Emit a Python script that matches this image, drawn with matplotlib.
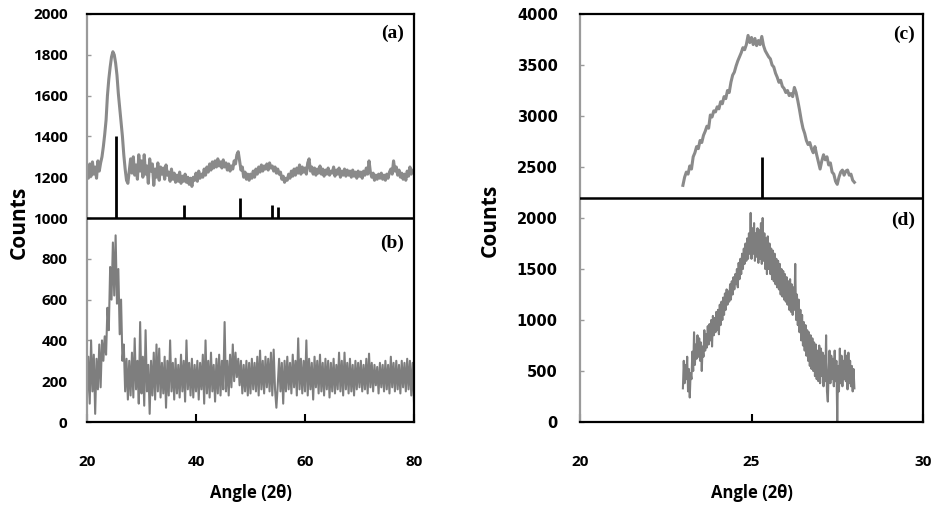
import numpy as np
import matplotlib
matplotlib.use("Agg")
import matplotlib.pyplot as plt

# ---------------- data ----------------
# Left panel: 2-theta 20..80, step 0.25
a_start, a_step = 20.0, 0.25
a_counts = [
    1230, 1195, 1265, 1205, 1275, 1215, 1250, 1195, 1280, 1230, 1270, 1300, 1350, 1410, 1480, 1600, 1680, 1740, 1790, 1815,
    1800, 1760, 1700, 1610, 1540, 1470, 1400, 1310, 1240, 1185, 1170, 1230, 1290, 1220, 1300, 1210, 1260, 1190, 1310, 1230,
    1280, 1200, 1310, 1215, 1255, 1170, 1290, 1230, 1265, 1160, 1240, 1200, 1270, 1185, 1250, 1215, 1245, 1190, 1260, 1210,
    1225, 1180, 1240, 1190, 1220, 1175, 1210, 1180, 1225, 1170, 1205, 1180, 1215, 1175, 1200, 1165, 1195, 1155, 1200, 1185,
    1220, 1180, 1230, 1195, 1215, 1200, 1240, 1210, 1250, 1225, 1265, 1235, 1275, 1245, 1280, 1250, 1290, 1255, 1275, 1245,
    1285, 1250, 1270, 1235, 1265, 1230, 1255, 1240, 1280, 1265, 1310, 1325, 1280, 1235, 1250, 1200, 1225, 1190, 1215, 1185,
    1215, 1195, 1230, 1200, 1240, 1215, 1250, 1225, 1260, 1230, 1255, 1240, 1265, 1235, 1270, 1245, 1255, 1230, 1250, 1220,
    1240, 1215, 1225, 1190, 1205, 1175, 1195, 1185, 1215, 1195, 1230, 1205, 1240, 1210, 1245, 1220, 1260, 1215, 1250, 1225,
    1245, 1215, 1270, 1290, 1230, 1250, 1215, 1245, 1210, 1240, 1220, 1255, 1215, 1240, 1205, 1235, 1215, 1245, 1210, 1230,
    1220, 1250, 1205, 1235, 1215, 1245, 1200, 1230, 1210, 1240, 1205, 1235, 1210, 1230, 1200, 1235, 1205, 1225, 1195, 1230,
    1205, 1225, 1195, 1230, 1210, 1245, 1215, 1280, 1225, 1200, 1220, 1185, 1210, 1190, 1215, 1195, 1220, 1190, 1210, 1185,
    1215, 1195, 1225, 1240, 1215, 1280, 1230, 1250, 1210, 1235, 1200, 1220, 1190, 1215, 1185, 1230, 1205, 1250, 1215, 1235,
    1225,
]
b_counts = [
    120, 320, 90, 400, 150, 330, 40, 310, 160, 380, 170, 400, 300, 420, 330, 560, 450, 760, 600, 880,
    620, 915, 580, 750, 430, 600, 300, 380, 150, 310, 110, 300, 130, 340, 120, 410, 160, 300, 90, 490,
    140, 320, 80, 450, 150, 280, 40, 300, 130, 340, 110, 380, 150, 360, 120, 290, 140, 320, 70, 300,
    130, 400, 150, 290, 110, 310, 140, 280, 120, 330, 150, 300, 100, 400, 160, 290, 130, 310, 120, 280,
    150, 300, 110, 290, 160, 330, 90, 400, 140, 300, 120, 340, 150, 280, 100, 310, 140, 330, 130, 300,
    160, 490, 150, 300, 130, 330, 170, 380, 200, 340, 220, 310, 180, 300, 140, 280, 150, 300, 130, 290,
    140, 310, 160, 290, 150, 320, 130, 350, 160, 300, 140, 320, 170, 310, 150, 340, 130, 355, 160, 70,
    180, 310, 150, 290, 90, 300, 150, 320, 160, 290, 140, 330, 170, 300, 130, 410, 160, 310, 140, 300,
    150, 400, 130, 310, 160, 290, 110, 320, 170, 300, 140, 330, 150, 290, 130, 310, 160, 300, 120, 290,
    150, 310, 140, 280, 160, 340, 150, 300, 130, 340, 160, 290, 140, 310, 150, 280, 130, 300, 160, 290,
    170, 300, 150, 280, 160, 310, 140, 335, 170, 290, 150, 280, 180, 270, 140, 290, 170, 280, 150, 300,
    160, 280, 140, 320, 170, 290, 150, 300, 160, 280, 140, 300, 170, 290, 150, 310, 160, 300, 130, 290,
    100,
]
ab_sticks_pos = [25.3, 37.8, 48.05, 53.9, 55.05]
ab_sticks_top = [1400, 1062, 1100, 1062, 1055]

# Right panel: 2-theta 23..28
c_start, c_step = 23.0, 0.05
c_counts = [
    2320, 2400, 2450, 2430, 2510, 2480, 2600, 2640, 2700, 2680,
    2760, 2740, 2810, 2850, 2900, 2880, 3010, 2990, 3050, 3040,
    3090, 3070, 3140, 3120, 3190, 3170, 3250, 3230, 3330, 3400,
    3430, 3490, 3540, 3580, 3620, 3670, 3650, 3700, 3790, 3720,
    3770, 3700, 3760, 3690, 3740, 3700, 3780, 3690, 3640, 3610,
    3580, 3560, 3500, 3480, 3420, 3380, 3330, 3350, 3290, 3270,
    3230, 3250, 3200, 3220, 3190, 3280, 3230, 3150, 3060, 2960,
    2880, 2830, 2760, 2720, 2740, 2680, 2640, 2700, 2620, 2550,
    2480, 2560, 2620, 2570, 2600, 2520, 2540, 2450, 2430, 2360,
    2330, 2400, 2450, 2470, 2420, 2460, 2470, 2420, 2430, 2370,
    2350,
]
d_start, d_step = 23.0, 0.025
d_counts = [
    330, 600, 380, 560, 420, 640, 300, 520, 240, 480,
    420, 690, 500, 880, 560, 760, 620, 850, 640, 820,
    600, 780, 500, 740, 640, 900, 700, 860, 730, 940,
    760, 960, 800, 1000, 740, 1040, 850, 1020, 880, 1080,
    900, 1100, 860, 1150, 950, 1180, 1000, 1220, 1050, 1260,
    1100, 1300, 1150, 1280, 1180, 1350, 1200, 1380, 1250, 1420,
    1300, 1450, 1350, 1500, 1320, 1560, 1400, 1600, 1450, 1650,
    1500, 1700, 1550, 1750, 1580, 1800, 1600, 1850, 1650, 2050,
    1600, 1900, 1650, 1950, 1580, 1850, 1620, 1900, 1560, 1880,
    1600, 1950, 1550, 2000, 1580, 1850, 1500, 1800, 1450, 1820,
    1500, 1750, 1450, 1700, 1400, 1680, 1380, 1650, 1350, 1600,
    1320, 1580, 1300, 1550, 1250, 1500, 1230, 1480, 1200, 1450,
    1180, 1420, 1150, 1380, 1100, 1400, 1080, 1350, 1050, 1320,
    1100, 1550, 1000, 1250, 950, 1200, 880, 1100, 800, 1050,
    750, 980, 700, 950, 650, 900, 600, 880, 550, 850,
    520, 820, 500, 780, 450, 760, 420, 700, 400, 750,
    380, 720, 450, 680, 350, 650, 400, 850, 300, 200,
    500, 700, 380, 650, 420, 620, 350, 700, 400, 600,
    0, 550, 300, 720, 380, 650, 350, 600, 420, 700,
    400, 650, 320, 680, 380, 600, 350, 550, 300, 520,
    330,
]
cd_stick_pos = [25.3]
cd_stick_top = [2600]

left_xticks = [20, 40, 60, 80]
left_yticks = [0, 200, 400, 600, 800, 1000, 1200, 1400, 1600, 1800, 2000]
right_xticks = [20, 25, 30]
right_yticks = [0, 500, 1000, 1500, 2000, 2500, 3000, 3500, 4000]
left_split = 1000
right_split = 2200
panel_labels = ["(a)", "(b)", "(c)", "(d)"]
xlabel_text = "Angle (2\u03b8)"
ylabel_text = "Counts"

def grid(start, step, n):
    return start + step * np.arange(n)

xa = grid(a_start, a_step, len(a_counts))
xb = grid(a_start, a_step, len(b_counts))
xc = grid(c_start, c_step, len(c_counts))
xd = grid(d_start, d_step, len(d_counts))

# ---------------- figure ----------------
W, H = 934, 517
fig = plt.figure(figsize=(W / 100, H / 100), dpi=100)

def px_axes(x0, x1, y0, y1):
    return fig.add_axes([x0 / W, 1 - y1 / H, (x1 - x0) / W, (y1 - y0) / H])

axL = px_axes(87, 414, 14, 422)
axR = px_axes(580, 923, 14, 422)

SANS = "Open Sans"
tick_font = dict(family=SANS, weight="bold", size=11)
tick_font_r = dict(family="DejaVu Sans", weight="bold", size=10.5)

def style(ax, xlim, ylim, xticks, yticks, yfont, ypad):
    ax.set_xlim(*xlim)
    ax.set_ylim(*ylim)
    ax.set_xticks(xticks)
    ax.set_yticks(yticks)
    for s in ["top", "right", "bottom"]:
        ax.spines[s].set_color("black")
        ax.spines[s].set_linewidth(1.6)
    ax.spines["left"].set_color("#9a9a9a")
    ax.spines["left"].set_linewidth(1.6)
    ax.tick_params(axis="x", direction="in", length=6, width=1.5, color="black", pad=24)
    ax.tick_params(axis="y", direction="in", length=3, width=1, color="#9a9a9a", pad=ypad)
    ax.set_xticklabels([str(t) for t in xticks], fontdict=tick_font)
    ax.set_yticklabels([str(t) for t in yticks], fontdict=yfont)
    ax.set_xlabel(xlabel_text, fontdict=dict(family=SANS, weight="bold", size=12))
    ax.xaxis.set_label_coords(0.5, -0.152)
    ax.xaxis.label.set_verticalalignment("top")

gray_a = "#8a8a8a"
gray_b = "#7e7e7e"

# Left panel
axL.plot(xa, a_counts, color=gray_a, lw=2.2, zorder=2)
axL.plot(xb, b_counts, color=gray_b, lw=1.5, zorder=2)
axL.vlines(ab_sticks_pos, left_split, ab_sticks_top, color="black", lw=2, zorder=3)
axL.axhline(left_split, color="black", lw=1.8, zorder=4)
style(axL, (20, 80), (0, 2000), left_xticks, left_yticks, tick_font, 14)

# Right panel
axR.plot(xc, c_counts, color=gray_a, lw=2.2, zorder=2)
axR.plot(xd, d_counts, color=gray_b, lw=1.5, zorder=2)
axR.vlines(cd_stick_pos, right_split, cd_stick_top, color="black", lw=2, zorder=3)
axR.axhline(right_split, color="black", lw=1.8, zorder=4)
style(axR, (20, 30), (0, 4000), right_xticks, right_yticks, tick_font_r, 16)

lab_font = dict(family="Liberation Serif", weight="bold", size=14)
axL.text(0.97, 0.953, panel_labels[0], transform=axL.transAxes, ha="right", va="center", **lab_font)
axL.text(0.97, 0.439, panel_labels[1], transform=axL.transAxes, ha="right", va="center", **lab_font)
axR.text(0.977, 0.949, panel_labels[2], transform=axR.transAxes, ha="right", va="center", **lab_font)
axR.text(0.977, 0.495, panel_labels[3], transform=axR.transAxes, ha="right", va="center", **lab_font)

fig.text(19 / W, 1 - 222 / H, ylabel_text, rotation=90, ha="center", va="center",
         family=SANS, weight="bold", size=15)
fig.text(490 / W, 1 - 220 / H, ylabel_text, rotation=90, ha="center", va="center",
         family=SANS, weight="bold", size=15)

fig.savefig("out.png", dpi=100)
